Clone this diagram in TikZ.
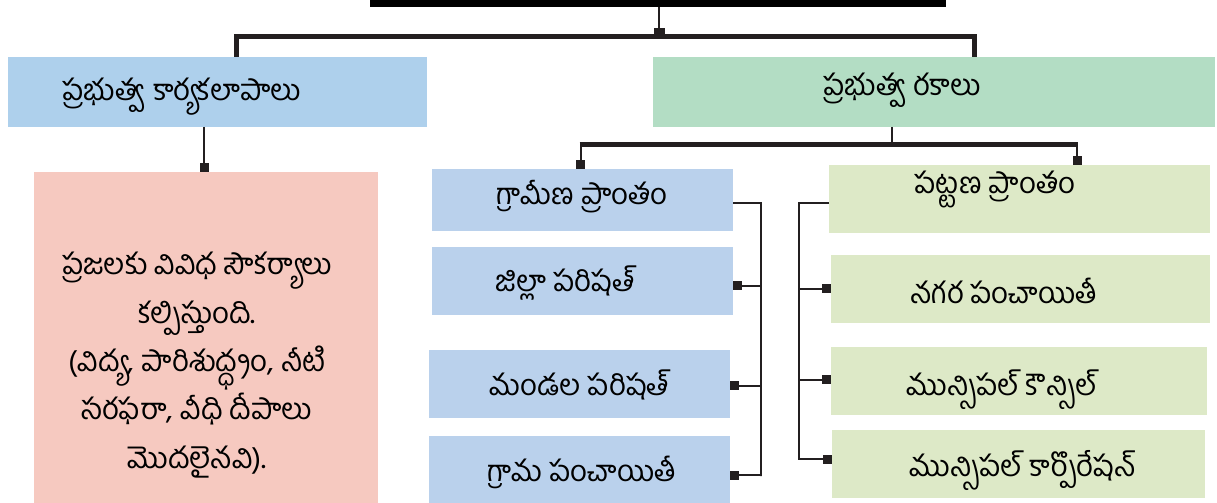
\documentclass[tikz,border=0pt]{standalone}
\usepackage{fontspec}
\newfontfamily\tel[Script=Telugu]{Hind Guntur}
\usetikzlibrary{arrows.meta}
\definecolor{lnc}{HTML}{231F20}
\definecolor{topblue}{HTML}{AED0EC}
\definecolor{topgreen}{HTML}{B3DDC4}
\definecolor{pinkbox}{HTML}{F6C9C0}
\definecolor{bluebox}{HTML}{BAD1EC}
\definecolor{greenbox}{HTML}{DDE9C7}
\begin{document}
\begin{tikzpicture}[x=1bp,y=-1bp,
  box/.style={rectangle,inner sep=0pt,outer sep=0pt,draw=none},
  txt/.style={inner sep=0pt,outer sep=0pt,font=\tel\fontsize{29.5}{34}\selectfont,text=black},
  thinln/.style={draw=lnc,line width=2bp},
  thickln/.style={draw=lnc,line width=5bp},
  sq/.style={thinln,-{Square[length=9bp,width=9bp]}},
  bigsq/.style={thinln,-{Square[length=10bp,width=11bp]}}
]
\useasboundingbox (0,0) rectangle (1217,503);
% boxes
\node[box,fill=black,minimum width=576bp,minimum height=8bp] (top) at (658,3) {};
\node[box,fill=topblue,minimum width=419bp,minimum height=70bp] (lb) at (217.5,92) {};
\node[box,fill=topgreen,minimum width=562bp,minimum height=70bp] (rb) at (934,92) {};
\node[box,fill=pinkbox,minimum width=344bp,minimum height=333bp] (pk) at (206,338.5) {};
\node[box,fill=bluebox,minimum width=301bp,minimum height=62bp] (gr) at (582.5,200) {};
\node[box,fill=bluebox,minimum width=301bp,minimum height=68bp] (zp) at (582.5,281) {};
\node[box,fill=bluebox,minimum width=301bp,minimum height=68bp] (mp) at (579.5,384) {};
\node[box,fill=bluebox,minimum width=301bp,minimum height=69bp] (gp) at (579.5,470.5) {};
\node[box,fill=greenbox,minimum width=381bp,minimum height=68bp] (pt) at (1019.5,199) {};
\node[box,fill=greenbox,minimum width=379bp,minimum height=68bp] (ng) at (1020.5,289) {};
\node[box,fill=greenbox,minimum width=376bp,minimum height=68bp] (mc) at (1019,381) {};
\node[box,fill=greenbox,minimum width=373bp,minimum height=68bp] (mcorp) at (1018.5,464) {};
% texts
\node[txt] (tlb) at (182,97) {ప్రభుత్వ కార్యకలాపాలు};
\node[txt] (trb) at (902,90) {ప్రభుత్వ రకాలు};
\node[txt,align=center,font=\tel\fontsize{29.5}{48.5}\selectfont] (tpk) at (197,365) {ప్రజలకు వివిధ సౌకర్యాలు\\కల్పిస్తుంది.\\(విద్య, పారిశుద్ధ్యం, నీటి\\సరఫరా, వీధి దీపాలు\\మొదలైనవి).};
\node[txt] (tgr) at (582,197) {గ్రామీణ ప్రాంతం};
\node[txt] (tzp) at (565,283) {జిల్లా పరిషత్};
\node[txt] (tmp) at (579,385) {మండల పరిషత్};
\node[txt] (tgp) at (582,472) {గ్రామ పంచాయితీ};
\node[txt] (tpt) at (995,189) {పట్టణ ప్రాంతం};
\node[txt] (tng) at (1004,291) {నగర పంచాయితీ};
\node[txt] (tmc) at (1002,390) {మున్సిపల్ కౌన్సిల్};
\node[txt] (tmcorp) at (1023,471) {మున్సిపల్ కార్పొరేషన్};
% connector coordinates
\coordinate (j0) at (659,36.5);
\coordinate (c1) at (236.5,36.5);
\coordinate (c2) at (974,36.5);
\coordinate (c3) at (204,0);
\coordinate (j1) at (892,144.5);
\coordinate (c4) at (580.5,144.5);
\coordinate (c5) at (1077,144.5);
\coordinate (lx) at (761,0);
\coordinate (rx) at (799,0);
% top level
\draw[bigsq] (top.south -| j0) -- ([yshift=-1.5bp]j0);
\draw[thickln,line cap=butt] (c1 |- lb.north) -- (c1) -- (c2) -- (c2 |- rb.north);
% left box to pink
\draw[sq] (c3 |- lb.south) -- (c3 |- pk.north);
% right box to two areas
\draw[thinln] (j1 |- rb.south) -- (j1);
\draw[thickln] ([xshift=-1bp]c4) -- ([xshift=1bp]c5);
\draw[sq] (c4) -- (c4 |- gr.north);
\draw[sq] (c5) -- (c5 |- pt.north);
% rural bracket
\draw[thinln] (gr.east |- 0,203) -| (lx |- 0,476) -- (lx |- 0,475);
\draw[sq] (lx |- 0,286) -- (zp.east |- 0,286);
\draw[sq] (lx |- 0,386) -- (mp.east |- 0,386);
\draw[sq] (lx |- 0,475) -- (gp.east |- 0,475);
% urban bracket
\draw[thinln] (pt.west |- 0,203) -| (rx |- 0,460);
\draw[sq] (rx |- 0,289) -- (ng.west |- 0,289);
\draw[sq] (rx |- 0,380) -- (mc.west |- 0,380);
\draw[sq] (rx |- 0,459) -- (mcorp.west |- 0,459);
\end{tikzpicture}
\end{document}
